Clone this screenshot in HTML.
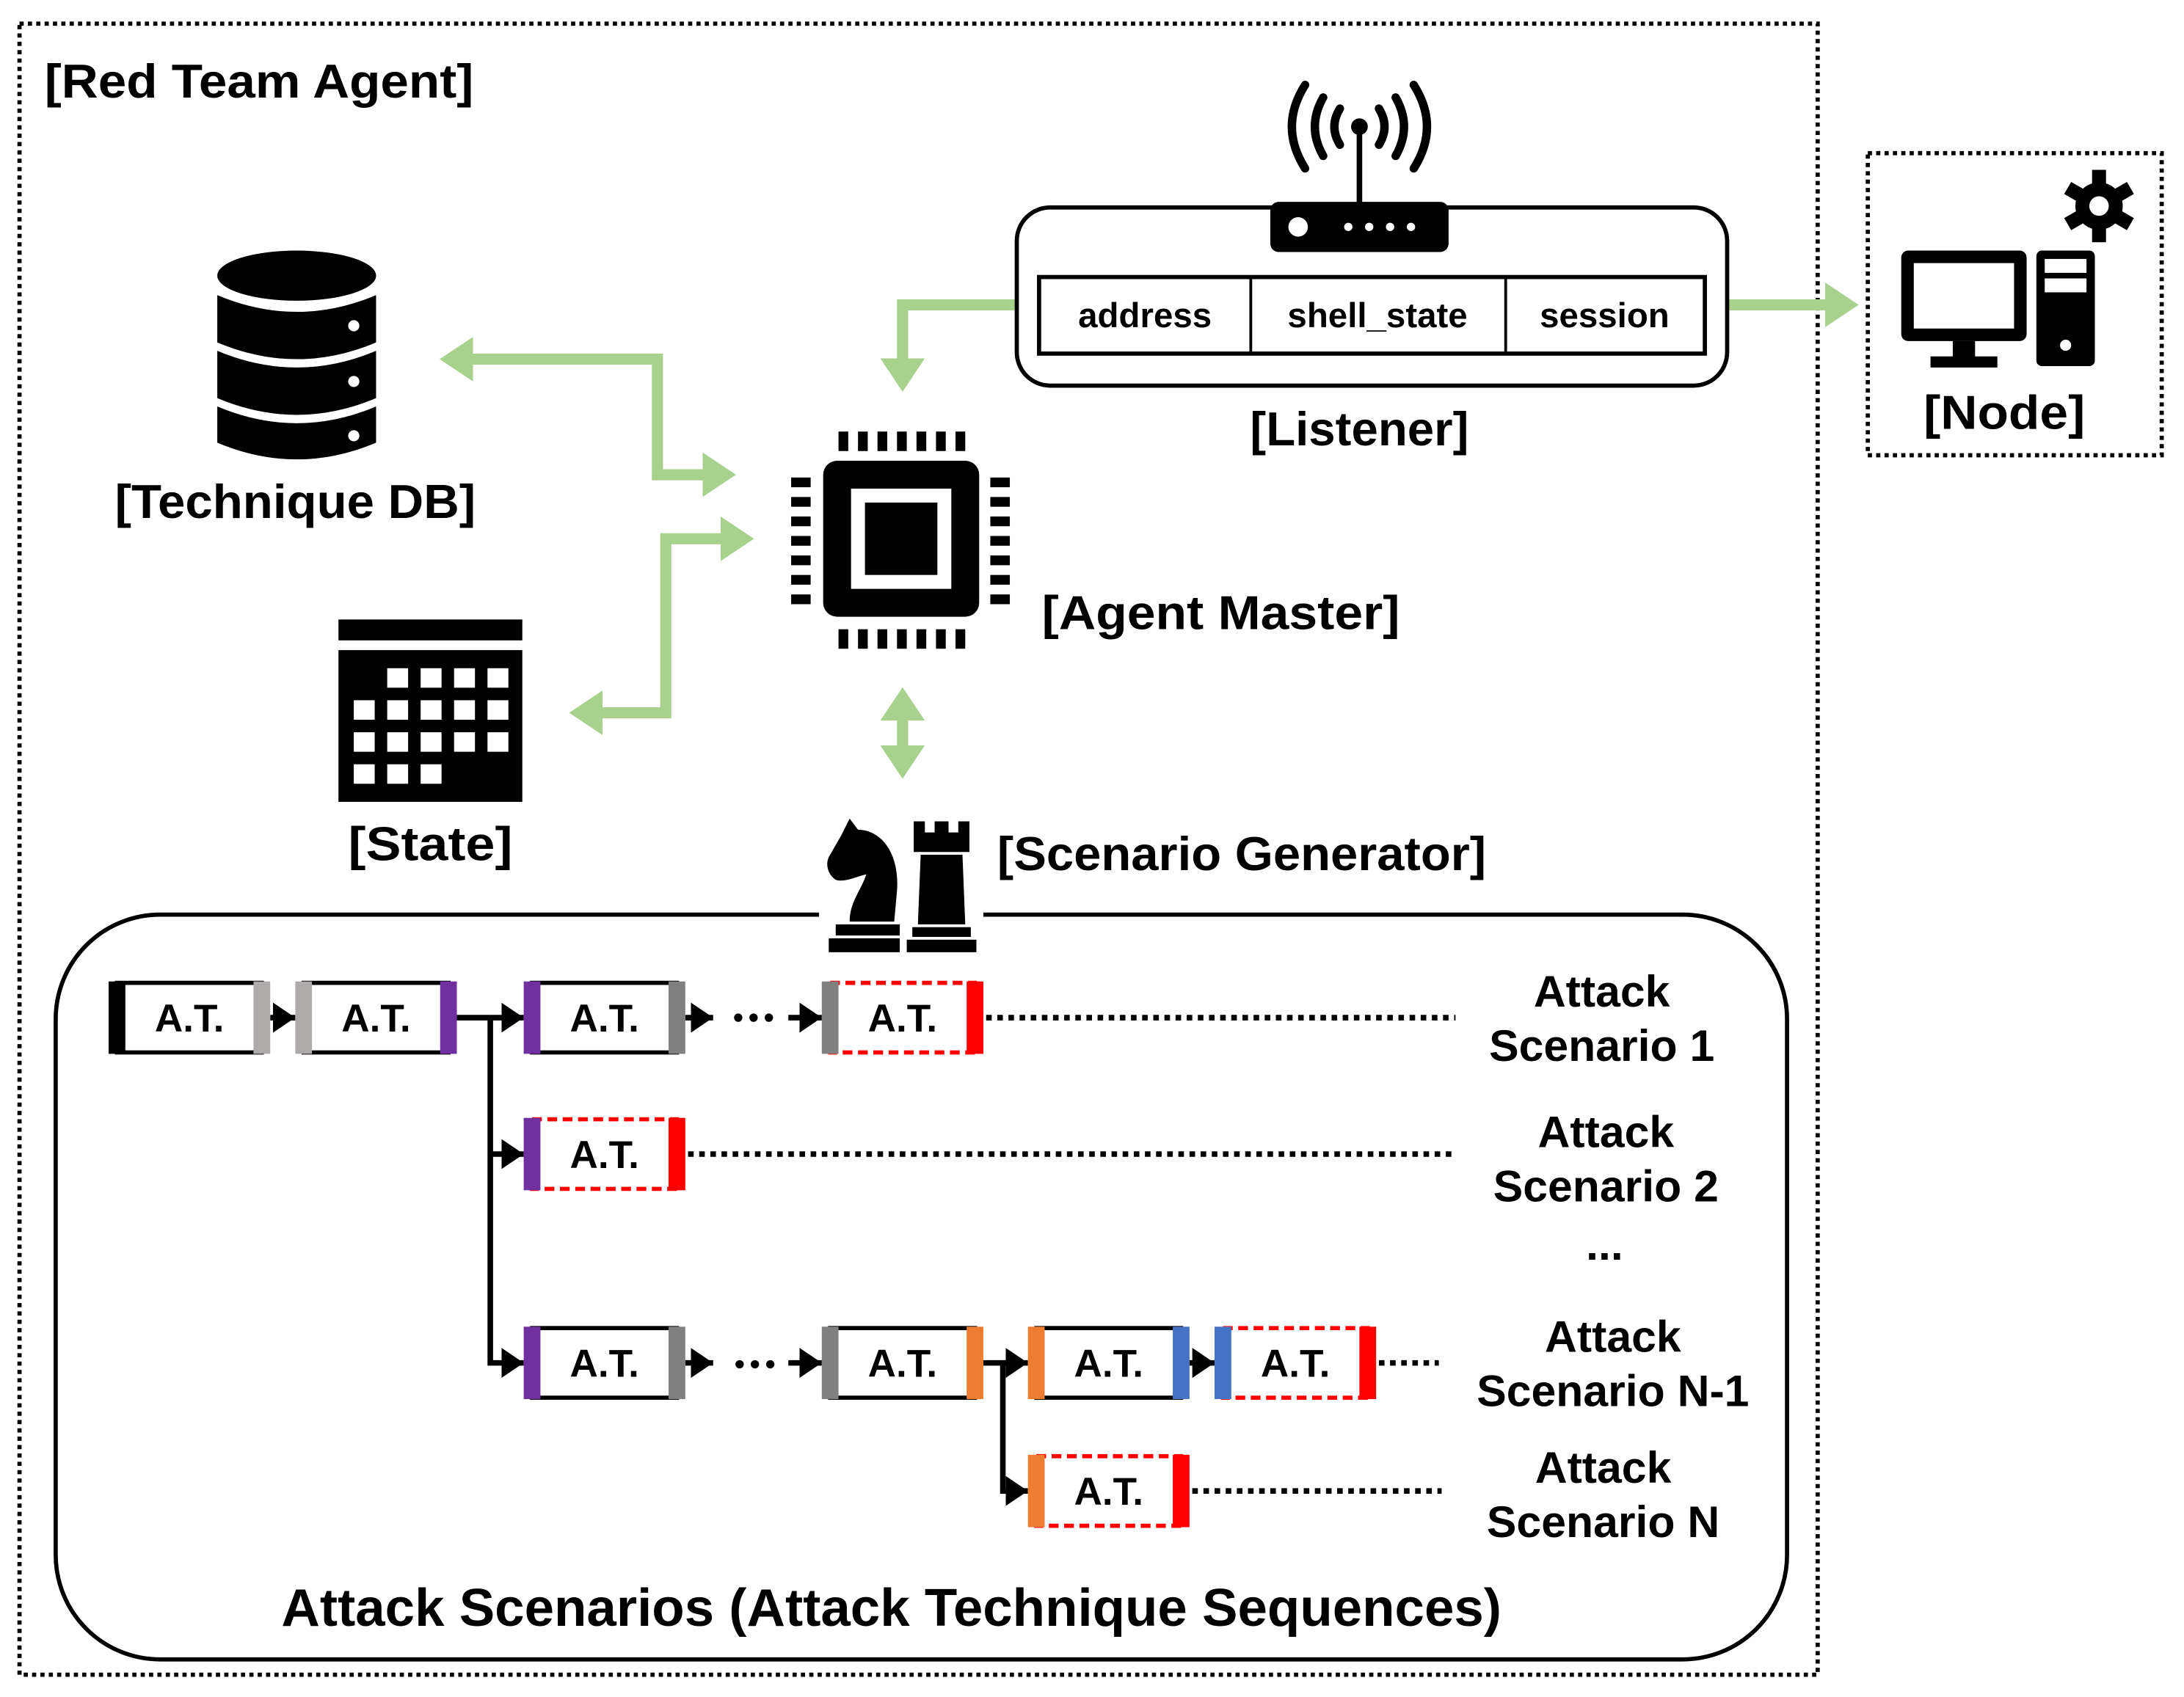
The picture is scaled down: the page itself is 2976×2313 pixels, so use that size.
<!DOCTYPE html>
<html><head><meta charset="utf-8"><style>html,body{margin:0;padding:0;background:#fff}svg{display:block}</style></head>
<body>
<svg width="2976" height="2313" viewBox="0 0 1568 1219" preserveAspectRatio="none" xmlns="http://www.w3.org/2000/svg" font-family="Liberation Sans, DejaVu Sans, sans-serif">
<defs>
<marker id="ga" markerWidth="4" markerHeight="4" refX="2.2" refY="2" orient="auto-start-reverse" markerUnits="strokeWidth"><path d="M0,0 L3,2 L0,4 z" fill="#a9d18e"/></marker>
<marker id="ka" markerWidth="5" markerHeight="6" refX="4" refY="3" orient="auto" markerUnits="strokeWidth"><path d="M0,0.3 L4,3 L0,5.7 z" fill="#000"/></marker>
</defs>
<rect x="14" y="17" width="1291" height="1186" fill="none" stroke="#000" stroke-width="3" stroke-dasharray="3 3"/>
<rect x="1341" y="110" width="211" height="217" fill="none" stroke="#000" stroke-width="3" stroke-dasharray="3 3"/>
<text x="32" y="70" font-size="34" font-weight="bold" textLength="308" lengthAdjust="spacingAndGlyphs">[Red Team Agent]</text>

<!-- DB icon -->
<g fill="#000">
<ellipse cx="213" cy="198" rx="57" ry="18"/>
<path d="M156,212 Q213,236 270,212 L270,246 Q213,270 156,246 Z"/>
<path d="M156,252 Q213,276 270,252 L270,286 Q213,310 156,286 Z"/>
<path d="M156,292 Q213,316 270,292 L270,318 Q213,342 156,318 Z"/>
<circle cx="254" cy="234" r="4" fill="#fff"/><circle cx="254" cy="274" r="4" fill="#fff"/><circle cx="254" cy="313" r="4" fill="#fff"/>
</g>
<text x="212" y="372" font-size="34" font-weight="bold" text-anchor="middle" textLength="259" lengthAdjust="spacingAndGlyphs">[Technique DB]</text>

<!-- State calendar -->
<rect x="243" y="445" width="132" height="15" fill="#000"/>
<rect x="243" y="467" width="132" height="109" fill="#000"/>
<g fill="#fff">
<rect x="278" y="480" width="15" height="14"/><rect x="302" y="480" width="15" height="14"/><rect x="326" y="480" width="15" height="14"/><rect x="350" y="480" width="15" height="14"/>
<rect x="254" y="503" width="15" height="14"/><rect x="278" y="503" width="15" height="14"/><rect x="302" y="503" width="15" height="14"/><rect x="326" y="503" width="15" height="14"/><rect x="350" y="503" width="15" height="14"/>
<rect x="254" y="526" width="15" height="14"/><rect x="278" y="526" width="15" height="14"/><rect x="302" y="526" width="15" height="14"/><rect x="326" y="526" width="15" height="14"/><rect x="350" y="526" width="15" height="14"/>
<rect x="254" y="549" width="15" height="14"/><rect x="278" y="549" width="15" height="14"/><rect x="302" y="549" width="15" height="14"/>
</g>
<text x="309" y="618" font-size="34" font-weight="bold" text-anchor="middle" textLength="118" lengthAdjust="spacingAndGlyphs">[State]</text>

<!-- green arrows -->
<g fill="none" stroke="#a9d18e" stroke-width="8">
<polyline points="322,258 472,258 472,341 522,341" marker-end="url(#ga)" marker-start="url(#ga)"/>
<polyline points="415,512 478,512 478,387 535,387" marker-end="url(#ga)" marker-start="url(#ga)"/>
<polyline points="730,219 648,219 648,275" marker-end="url(#ga)"/>
<line x1="1240" y1="219" x2="1328" y2="219" marker-end="url(#ga)"/>
<line x1="648" y1="500" x2="648" y2="553" marker-end="url(#ga)" marker-start="url(#ga)"/>
</g>

<!-- chip -->
<rect x="591" y="331" width="112" height="112" rx="10" fill="#000"/>
<rect x="611" y="351" width="72" height="72" fill="#fff"/>
<rect x="621" y="361" width="52" height="52" fill="#000"/>
<g fill="#000">
<rect x="602" y="310" width="7" height="14"/><rect x="616" y="310" width="7" height="14"/><rect x="630" y="310" width="7" height="14"/><rect x="644" y="310" width="7" height="14"/><rect x="658" y="310" width="7" height="14"/><rect x="672" y="310" width="7" height="14"/><rect x="686" y="310" width="7" height="14"/>
<rect x="602" y="452" width="7" height="14"/><rect x="616" y="452" width="7" height="14"/><rect x="630" y="452" width="7" height="14"/><rect x="644" y="452" width="7" height="14"/><rect x="658" y="452" width="7" height="14"/><rect x="672" y="452" width="7" height="14"/><rect x="686" y="452" width="7" height="14"/>
<rect x="568" y="343" width="14" height="7"/><rect x="568" y="357" width="14" height="7"/><rect x="568" y="371" width="14" height="7"/><rect x="568" y="385" width="14" height="7"/><rect x="568" y="399" width="14" height="7"/><rect x="568" y="413" width="14" height="7"/><rect x="568" y="427" width="14" height="7"/>
<rect x="711" y="343" width="14" height="7"/><rect x="711" y="357" width="14" height="7"/><rect x="711" y="371" width="14" height="7"/><rect x="711" y="385" width="14" height="7"/><rect x="711" y="399" width="14" height="7"/><rect x="711" y="413" width="14" height="7"/><rect x="711" y="427" width="14" height="7"/>
</g>
<text x="748" y="452" font-size="34" font-weight="bold" textLength="257" lengthAdjust="spacingAndGlyphs">[Agent Master]</text>

<!-- Listener -->
<rect x="730" y="149" width="510" height="128" rx="24" fill="#fff" stroke="#000" stroke-width="3"/>
<rect x="746" y="199" width="478" height="55" fill="#fff" stroke="#000" stroke-width="3"/>
<line x1="898" y1="199" x2="898" y2="254" stroke="#000" stroke-width="2"/>
<line x1="1081" y1="199" x2="1081" y2="254" stroke="#000" stroke-width="2"/>
<g font-size="25" font-weight="bold" text-anchor="middle">
<text x="822" y="235">address</text><text x="989" y="235">shell_state</text><text x="1152" y="235">session</text>
</g>
<!-- router -->
<line x1="976" y1="92" x2="976" y2="150" stroke="#000" stroke-width="4"/>
<circle cx="976" cy="91" r="6" fill="#000"/>
<g fill="none" stroke="#000" stroke-width="6" stroke-linecap="round">
<path d="M962,78 Q954,91 962,104"/><path d="M990,78 Q998,91 990,104"/>
<path d="M950,70 Q938,91 950,112"/><path d="M1002,70 Q1014,91 1002,112"/>
<path d="M937,61 Q918,91 937,121"/><path d="M1015,61 Q1034,91 1015,121"/>
</g>
<rect x="912" y="145" width="128" height="36" rx="6" fill="#000"/>
<circle cx="932" cy="163" r="7" fill="#fff"/>
<circle cx="968" cy="163" r="3" fill="#fff"/><circle cx="983" cy="163" r="3" fill="#fff"/><circle cx="998" cy="163" r="3" fill="#fff"/><circle cx="1013" cy="163" r="3" fill="#fff"/>
<text x="976" y="320" font-size="34" font-weight="bold" text-anchor="middle" textLength="157" lengthAdjust="spacingAndGlyphs">[Listener]</text>

<!-- Node -->
<rect x="1365" y="180" width="90" height="65" rx="5" fill="#000"/>
<rect x="1374" y="189" width="72" height="47" fill="#fff"/>
<rect x="1402" y="245" width="16" height="12" fill="#000"/>
<rect x="1386" y="256" width="48" height="8" fill="#000"/>
<rect x="1462" y="180" width="42" height="83" rx="4" fill="#000"/>
<rect x="1468" y="186" width="30" height="10" fill="#fff"/>
<rect x="1468" y="200" width="30" height="10" fill="#fff"/>
<circle cx="1483" cy="248" r="4" fill="#fff"/>
<g transform="translate(1507,148)">
<circle r="17" fill="#000"/>
<g fill="#000"><rect x="-5" y="-26" width="10" height="52"/><rect x="-5" y="-26" width="10" height="52" transform="rotate(60)"/><rect x="-5" y="-26" width="10" height="52" transform="rotate(120)"/></g>
<circle r="7" fill="#fff"/>
</g>
<text x="1439" y="308" font-size="34" font-weight="bold" text-anchor="middle" textLength="116" lengthAdjust="spacingAndGlyphs">[Node]</text>

<!-- Scenario container -->
<rect x="40" y="657" width="1243" height="535" rx="75" fill="#fff" stroke="#000" stroke-width="3"/>
<!-- chess pieces -->
<rect x="588" y="650" width="118" height="36" fill="#fff"/>
<g fill="#000">
<!-- knight -->
<path d="M604,600 L610,588 L616,596 C632,596 646,612 644,640 L642,662 L610,662 C610,648 618,640 622,628 C614,630 606,634 600,632 C594,628 592,620 596,614 Z"/>
<rect x="600" y="664" width="46" height="8"/>
<rect x="595" y="674" width="51" height="10"/>
<!-- rook -->
<path d="M656,590 L664,590 L664,598 L671,598 L671,590 L681,590 L681,598 L688,598 L688,590 L696,590 L696,612 L656,612 Z"/>
<path d="M661,614 L691,614 L693,664 L659,664 Z"/>
<rect x="655" y="666" width="42" height="7"/>
<rect x="651" y="675" width="50" height="9"/>
</g>
<text x="716" y="625" font-size="34" font-weight="bold" textLength="351" lengthAdjust="spacingAndGlyphs">[Scenario Generator]</text>

<!-- connectors -->
<g stroke="#000" stroke-width="4" fill="none">
<line x1="194" y1="731" x2="212" y2="731" marker-end="url(#ka)"/>
<line x1="328" y1="731" x2="376" y2="731" marker-end="url(#ka)"/>
<polyline points="352,731 352,979 376,979" marker-end="url(#ka)"/>
<line x1="352" y1="829" x2="376" y2="829" marker-end="url(#ka)"/>
<line x1="492" y1="731" x2="512" y2="731" marker-end="url(#ka)"/>
<line x1="566" y1="731" x2="590" y2="731" marker-end="url(#ka)"/>
<line x1="492" y1="979" x2="512" y2="979" marker-end="url(#ka)"/>
<line x1="566" y1="979" x2="590" y2="979" marker-end="url(#ka)"/>
<line x1="706" y1="979" x2="738" y2="979" marker-end="url(#ka)"/>
<polyline points="720,979 720,1071 738,1071" marker-end="url(#ka)"/>
<line x1="854" y1="979" x2="872" y2="979" marker-end="url(#ka)"/>
</g>
<g fill="#000"><circle cx="530" cy="731" r="3"/><circle cx="541" cy="731" r="3"/><circle cx="552" cy="731" r="3"/>
<circle cx="531" cy="980" r="3"/><circle cx="542" cy="980" r="3"/><circle cx="553" cy="980" r="3"/></g>
<g stroke="#000" stroke-width="4" stroke-dasharray="4 4">
<line x1="708" y1="731" x2="1045" y2="731"/>
<line x1="494" y1="829" x2="1045" y2="829"/>
<line x1="990" y1="979" x2="1033" y2="979"/>
<line x1="856" y1="1071" x2="1035" y2="1071"/>
</g>

<!-- boxes -->
<g font-size="28" font-weight="bold" text-anchor="middle">
<g stroke="#000" stroke-width="3" fill="#fff">
<rect x="84" y="706" width="104" height="50"/>
<rect x="218" y="706" width="104" height="50"/>
<rect x="382" y="706" width="104" height="50"/>
<rect x="382" y="954" width="104" height="50"/>
<rect x="596" y="954" width="104" height="50"/>
<rect x="744" y="954" width="104" height="50"/>
</g>
<g stroke="#ff0000" stroke-width="3" stroke-dasharray="7 4" fill="#fff">
<rect x="596" y="706" width="104" height="50"/>
<rect x="382" y="804" width="104" height="50"/>
<rect x="878" y="954" width="104" height="50"/>
<rect x="744" y="1046" width="104" height="50"/>
</g>
<rect x="78" y="705" width="12" height="52" fill="#000"/><rect x="182" y="705" width="12" height="52" fill="#aeaaaa"/>
<rect x="212" y="705" width="12" height="52" fill="#aeaaaa"/><rect x="316" y="705" width="12" height="52" fill="#7030a0"/>
<rect x="376" y="705" width="12" height="52" fill="#7030a0"/><rect x="480" y="705" width="12" height="52" fill="#808080"/>
<rect x="590" y="705" width="12" height="52" fill="#808080"/><rect x="694" y="705" width="12" height="52" fill="#ff0000"/>
<rect x="376" y="803" width="12" height="52" fill="#7030a0"/><rect x="480" y="803" width="12" height="52" fill="#ff0000"/>
<rect x="376" y="953" width="12" height="52" fill="#7030a0"/><rect x="480" y="953" width="12" height="52" fill="#808080"/>
<rect x="590" y="953" width="12" height="52" fill="#808080"/><rect x="694" y="953" width="12" height="52" fill="#ed7d31"/>
<rect x="738" y="953" width="12" height="52" fill="#ed7d31"/><rect x="842" y="953" width="12" height="52" fill="#4472c4"/>
<rect x="872" y="953" width="12" height="52" fill="#4472c4"/><rect x="976" y="953" width="12" height="52" fill="#ff0000"/>
<rect x="738" y="1045" width="12" height="52" fill="#ed7d31"/><rect x="842" y="1045" width="12" height="52" fill="#ff0000"/>
<text x="136" y="741">A.T.</text><text x="270" y="741">A.T.</text><text x="434" y="741">A.T.</text><text x="648" y="741">A.T.</text>
<text x="434" y="839">A.T.</text>
<text x="434" y="989">A.T.</text><text x="648" y="989">A.T.</text><text x="796" y="989">A.T.</text><text x="930" y="989">A.T.</text>
<text x="796" y="1081">A.T.</text>
</g>

<g font-size="32" font-weight="bold" text-anchor="middle">
<text x="1150" y="723">Attack</text><text x="1150" y="762">Scenario 1</text>
<text x="1153" y="824">Attack</text><text x="1153" y="863">Scenario 2</text>
<text x="1152" y="905">...</text>
<text x="1158" y="971">Attack</text><text x="1158" y="1010">Scenario N-1</text>
<text x="1151" y="1065">Attack</text><text x="1151" y="1104">Scenario N</text>
</g>
<text x="640" y="1168" font-size="38" font-weight="bold" text-anchor="middle" textLength="876" lengthAdjust="spacingAndGlyphs">Attack Scenarios (Attack Technique Sequences)</text>
</svg>
</body></html>
